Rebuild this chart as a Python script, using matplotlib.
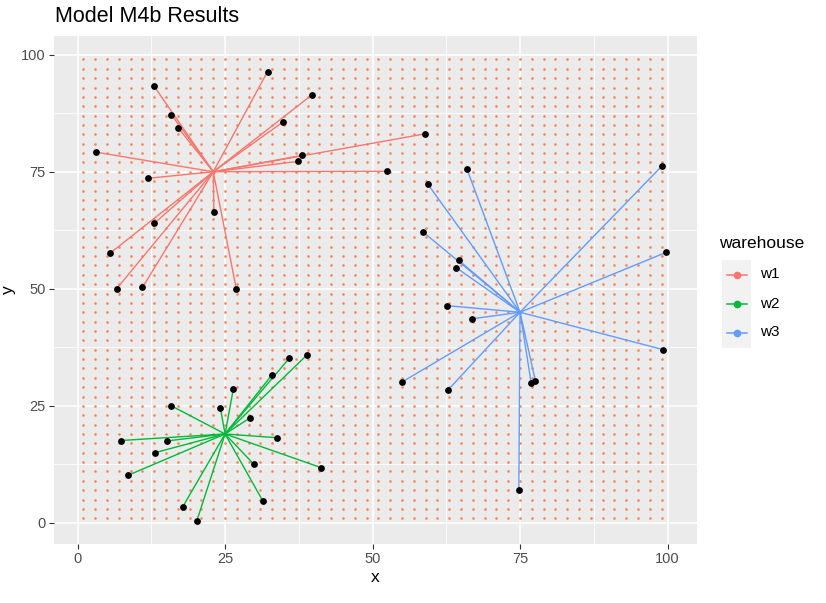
import numpy as np
import matplotlib
matplotlib.use('Agg')
import matplotlib.pyplot as plt
from matplotlib.lines import Line2D
from matplotlib.patches import Rectangle

plt.rcParams['font.family'] = ['Liberation Sans', 'DejaVu Sans']

# candidate site grid (every 2 units)
grid_x = np.arange(1, 100, 2)
grid_y = np.arange(1, 100, 2)

warehouses = ['w1', 'w2', 'w3']
wh_x = [23, 25, 75]
wh_y = [75, 19, 45]
colors = ['#F8766D', '#00BA38', '#619CFF']

# customers assigned to each warehouse
w1_x = [32.2, 12.9, 39.7, 15.9, 17.1, 34.9, 58.9, 3.1, 38.0, 37.3, 52.5, 11.9, 23.1, 13.0, 5.5, 6.6, 11.0, 26.9]
w1_y = [96.4, 93.4, 91.4, 87.2, 84.3, 85.7, 83.1, 79.2, 78.5, 77.2, 75.1, 73.6, 66.5, 64.0, 57.6, 50.0, 50.3, 50.0]
w2_x = [38.9, 35.9, 33.0, 26.4, 15.9, 24.2, 29.2, 33.8, 7.3, 15.1, 13.1, 29.9, 41.3, 8.6, 31.4, 17.8, 20.2]
w2_y = [35.9, 35.2, 31.7, 28.6, 25.0, 24.6, 22.4, 18.2, 17.6, 17.5, 15.0, 12.5, 11.8, 10.2, 4.7, 3.4, 0.4]
w3_x = [66.0, 99.1, 59.4, 58.5, 99.8, 64.6, 64.2, 62.7, 66.9, 99.3, 55.0, 62.8, 76.9, 77.6, 74.8]
w3_y = [75.6, 76.3, 72.3, 62.2, 57.8, 56.1, 54.5, 46.4, 43.6, 37.0, 30.1, 28.4, 29.8, 30.4, 7.1]

cust_x = [w1_x, w2_x, w3_x]
cust_y = [w1_y, w2_y, w3_y]

W, H = 826, 603
fig = plt.figure(figsize=(W / 100, H / 100), dpi=100)
ax = fig.add_axes([54 / W, 1 - 544 / H, (697 - 54) / W, (544 - 36) / H])
ax.set_facecolor('#EBEBEB')
for s in ax.spines.values():
    s.set_visible(False)

ax.set_xticks([0, 25, 50, 75, 100])
ax.set_yticks([0, 25, 50, 75, 100])
ax.set_xticks([12.5, 37.5, 62.5, 87.5], minor=True)
ax.set_yticks([12.5, 37.5, 62.5, 87.5], minor=True)
ax.grid(which='major', color='white', linewidth=1.1)
ax.grid(which='minor', color='white', linewidth=0.55)
ax.set_axisbelow(True)
ax.tick_params(which='major', colors='#333333', labelcolor='#4D4D4D', labelsize=10.5, length=3.5, width=0.8, pad=2.5)
ax.tick_params(which='minor', length=0)

gx, gy = np.meshgrid(grid_x, grid_y)
ax.scatter(gx.ravel(), gy.ravel(), s=3.5, color='#FF7F50', linewidths=0, zorder=2)

for i in range(3):
    for cx, cy in zip(cust_x[i], cust_y[i]):
        ax.plot([wh_x[i], cx], [wh_y[i], cy], color=colors[i], linewidth=1.0, zorder=3)
    ax.scatter([wh_x[i]], [wh_y[i]], s=8, color=colors[i], zorder=4, linewidths=0)
    ax.scatter(cust_x[i], cust_y[i], s=24, color='black', zorder=5, linewidths=0)

ax.set_xlim(-4.0, 105.0)
ax.set_ylim(-4.5, 104.0)
ax.set_xlabel('x', fontsize=12.5, color='black', labelpad=3)
ax.set_ylabel('y', fontsize=12.5, color='black', labelpad=4)
fig.text(55 / W, 1 - 16 / H, 'Model M4b Results', fontsize=15.5, va='center', ha='left')

# legend
fig.text(719 / W, 1 - 244 / H, 'warehouse', fontsize=12.5, va='center', ha='left')
fig.add_artist(Rectangle((722 / W, 1 - 348 / H), 29 / W, 88 / H,
                         transform=fig.transFigure, facecolor='#F2F2F2', edgecolor='none'))
for i, name in enumerate(warehouses):
    yy = 1 - (274.5 + 29 * i) / H
    fig.add_artist(Line2D([727 / W, 747 / W], [yy, yy], transform=fig.transFigure,
                          color=colors[i], linewidth=1.1))
    fig.add_artist(Line2D([737 / W], [yy], transform=fig.transFigure, marker='o',
                          markersize=4.5, color=colors[i], linestyle='none'))
    fig.text(760 / W, yy, name, fontsize=11, va='center', ha='left')

fig.savefig('out.png', dpi=100)
